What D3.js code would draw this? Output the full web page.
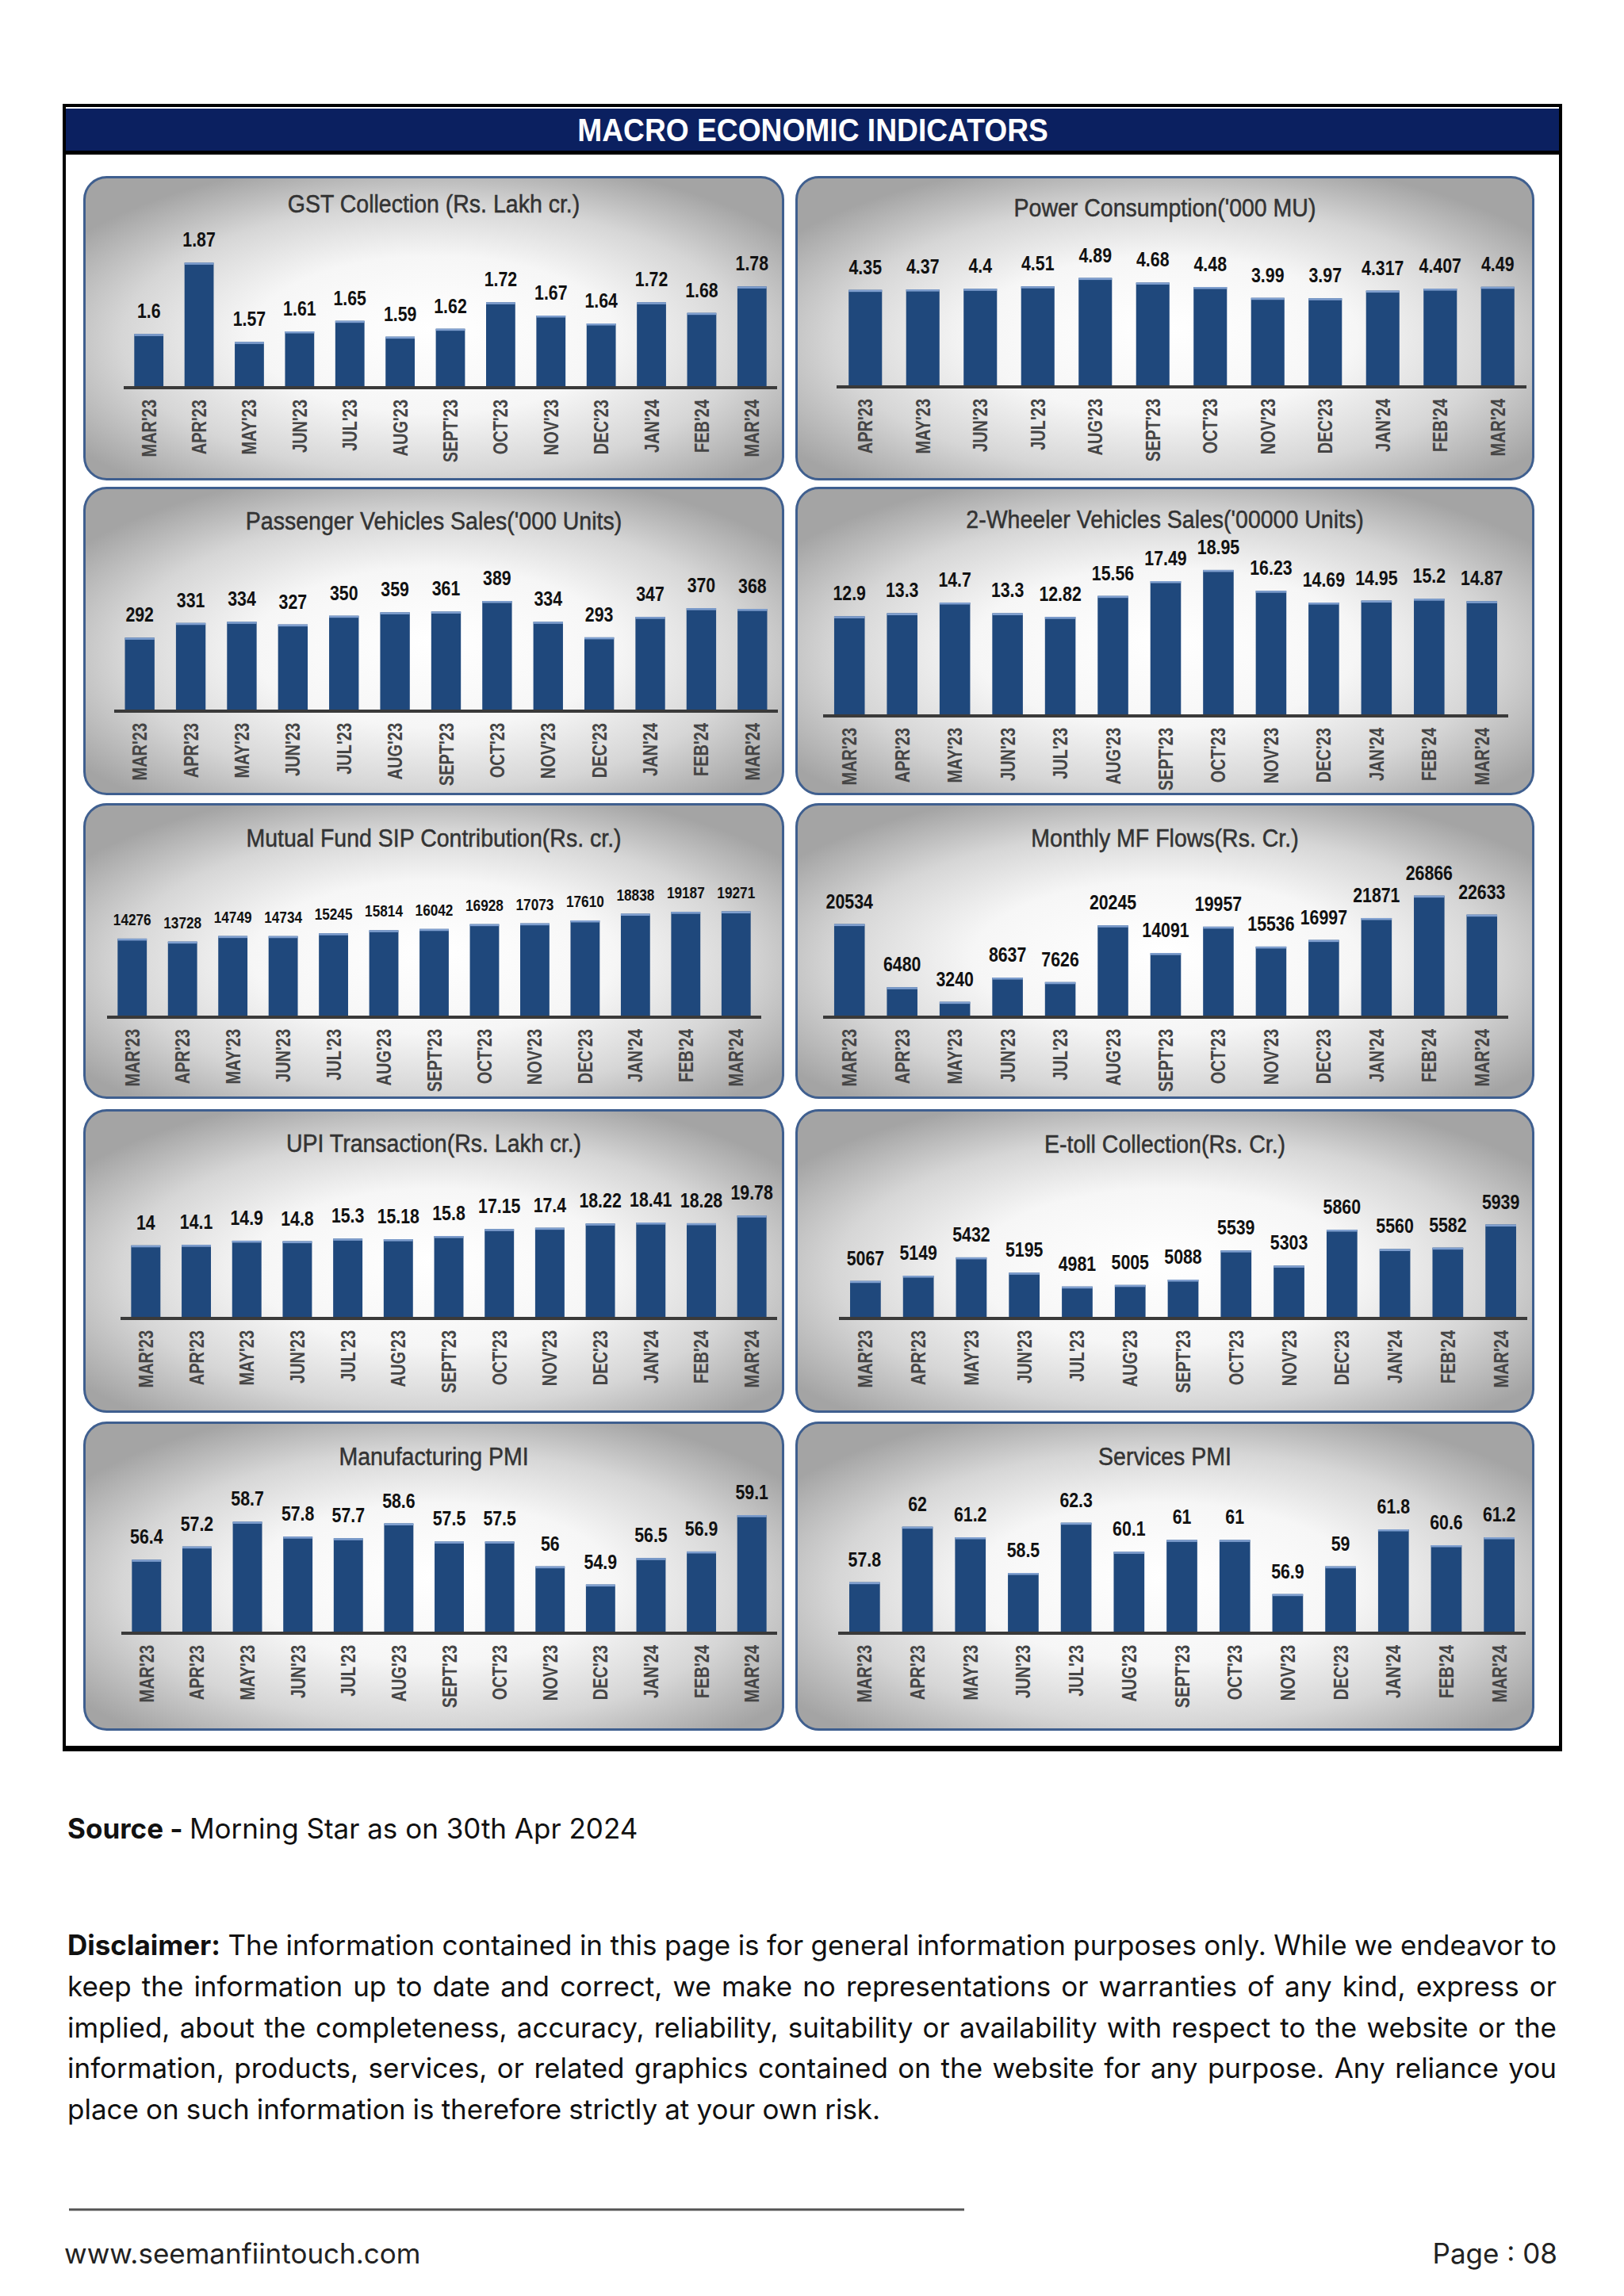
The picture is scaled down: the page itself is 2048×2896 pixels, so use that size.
<!DOCTYPE html>
<html><head><meta charset="utf-8">
<script src="https://cdn.jsdelivr.net/npm/d3@7"></script>
<style>
html,body{margin:0;padding:0;background:#fff;}
svg{display:block;}
</style></head>
<body><svg id="page" width="2048" height="2896"></svg>
<script>
// ---------------- DATA ----------------
const months13 = ["MAR'23","APR'23","MAY'23","JUN'23","JUL'23","AUG'23","SEPT'23","OCT'23","NOV'23","DEC'23","JAN'24","FEB'24","MAR'24"];
const months12 = ["APR'23","MAY'23","JUN'23","JUL'23","AUG'23","SEPT'23","OCT'23","NOV'23","DEC'23","JAN'24","FEB'24","MAR'24"];

const gstValues   = [1.6, 1.87, 1.57, 1.61, 1.65, 1.59, 1.62, 1.72, 1.67, 1.64, 1.72, 1.68, 1.78];
const powerValues = [4.35, 4.37, 4.4, 4.51, 4.89, 4.68, 4.48, 3.99, 3.97, 4.317, 4.407, 4.49];
const pvValues    = [292, 331, 334, 327, 350, 359, 361, 389, 334, 293, 347, 370, 368];
const twValues    = [12.9, 13.3, 14.7, 13.3, 12.82, 15.56, 17.49, 18.95, 16.23, 14.69, 14.95, 15.2, 14.87];
const sipValues   = [14276, 13728, 14749, 14734, 15245, 15814, 16042, 16928, 17073, 17610, 18838, 19187, 19271];
const mfValues    = [20534, 6480, 3240, 8637, 7626, 20245, 14091, 19957, 15536, 16997, 21871, 26866, 22633];
const upiValues   = [14, 14.1, 14.9, 14.8, 15.3, 15.18, 15.8, 17.15, 17.4, 18.22, 18.41, 18.28, 19.78];
const tollValues  = [5067, 5149, 5432, 5195, 4981, 5005, 5088, 5539, 5303, 5860, 5560, 5582, 5939];
const mpmiValues  = [56.4, 57.2, 58.7, 57.8, 57.7, 58.6, 57.5, 57.5, 56, 54.9, 56.5, 56.9, 59.1];
const spmiValues  = [57.8, 62, 61.2, 58.5, 62.3, 60.1, 61, 61, 56.9, 59, 61.8, 60.6, 61.2];

const chartTitles = ["GST Collection (Rs. Lakh cr.)", "Power Consumption('000 MU)",
  "Passenger Vehicles Sales('000 Units)", "2-Wheeler Vehicles Sales('00000 Units)",
  "Mutual Fund SIP Contribution(Rs. cr.)", "Monthly MF Flows(Rs. Cr.)",
  "UPI Transaction(Rs. Lakh cr.)", "E-toll Collection(Rs. Cr.)",
  "Manufacturing PMI", "Services PMI"];
const chartCats   = [months13, months12, months13, months13, months13, months13, months13, months13, months13, months13];
const chartValues = [gstValues, powerValues, pvValues, twValues, sipValues, mfValues, upiValues, tollValues, mpmiValues, spmiValues];
// value-axis extents (the axis itself is hidden in the original)
const axisMin = [1.4, 0, 100, 0, 0, 0, 0, 4500, 52, 54];
const axisMax = [2.0, 7.17, 519, 20.7, 29100, 35270, 30.7, 6950, 61.6, 66];

const pageTitle = "MACRO ECONOMIC INDICATORS";
const sourceBold = "Source -";
const sourceText = "Morning Star as on 30th Apr 2024";
const disclaimerBold = "Disclaimer:";
const disclaimerLines = [
  "The information contained in this page is for general information purposes only. While we endeavor to",
  "keep the information up to date and correct, we make no representations or warranties of any kind, express or",
  "implied, about the completeness, accuracy, reliability, suitability or availability with respect to the website or the",
  "information, products, services, or related graphics contained on the website for any purpose. Any reliance you",
  "place on such information is therefore strictly at your own risk."
];
const footerLeft = "www.seemanfiintouch.com";
const footerRight = "Page : 08";

// ---------------- LAYOUT ----------------
const rowTop = [222, 614, 1013, 1399, 1793];
const rowH   = [384, 389, 373, 383, 390];
const colX   = [105, 1003];
const colW   = [884, 932];
const panelGeom = [
  {t:35, b:266, l:51, r:875, vs:26},
  {t:40, b:265, l:52, r:922, vs:26},
  {t:43, b:282, l:39, r:876, vs:26},
  {t:41, b:288, l:35, r:899, vs:26},
  {t:44, b:269, l:30, r:855, vs:21},
  {t:44, b:269, l:35, r:899, vs:26},
  {t:43, b:263, l:47, r:875, vs:26},
  {t:44, b:263, l:55, r:923, vs:26},
  {t:44, b:266, l:48, r:875, vs:26},
  {t:44, b:266, l:54, r:921, vs:26}
];
const plotH = 200;

const SANS = "'Liberation Sans',Arial,sans-serif";
const BODY = "Inter,'Open Sans',sans-serif";
const BAR = "#1f487c";

const svg = d3.select("#page");
const defs = svg.append("defs");
const grad = defs.append("radialGradient").attr("id","panelGrad")
  .attr("cx","50%").attr("cy","55%").attr("r","62%").attr("fx","50%").attr("fy","50%");
[[0,"#ffffff"],[0.42,"#f6f6f6"],[0.72,"#d6d6d6"],[1,"#a4a4a4"]].forEach(([o,c]) =>
  grad.append("stop").attr("offset",o).attr("stop-color",c));

// frame + header
svg.append("rect").attr("x",81).attr("y",133).attr("width",1887).attr("height",2074)
  .attr("fill","#fff").attr("stroke","#000").attr("stroke-width",4);
svg.append("rect").attr("x",83).attr("y",137).attr("width",1883).attr("height",54).attr("fill","#0b2060");
svg.append("rect").attr("x",83).attr("y",190).attr("width",1883).attr("height",5).attr("fill","#000");
svg.append("rect").attr("x",81).attr("y",2202).attr("width",1887).attr("height",5).attr("fill","#000");
svg.append("text").attr("transform","translate(1025,178) scale(0.93,1)").attr("text-anchor","middle")
  .attr("font-family",SANS).attr("font-weight","bold").attr("font-size",40).attr("fill","#fff")
  .text(pageTitle);

// panels
chartTitles.forEach((title, i) => {
  const col = i % 2, row = Math.floor(i / 2);
  const px = colX[col], py = rowTop[row], pw = colW[col], ph = rowH[row];
  const geo = panelGeom[i];
  const g = svg.append("g").attr("transform", `translate(${px},${py})`);
  g.append("rect").attr("x",1.5).attr("y",1.5).attr("width",pw-3).attr("height",ph-3)
    .attr("rx",28).attr("ry",28).attr("fill","url(#panelGrad)")
    .attr("stroke","#3f5f8f").attr("stroke-width",3);

  g.append("text").attr("transform",`translate(${pw/2},${geo.t}) scale(0.92,1)`)
    .attr("dy","0.36em").attr("text-anchor","middle")
    .attr("font-family",SANS).attr("font-size",31).attr("fill","#333")
    .attr("stroke","#333").attr("stroke-width",0.5).text(title);

  const cats = chartCats[i], vals = chartValues[i];
  const data = cats.map((c, k) => ({c, v: vals[k]}));
  const x = d3.scaleBand().domain(cats).range([geo.l, geo.r]).paddingInner(0.42).paddingOuter(0.21);
  const y = d3.scaleLinear().domain([axisMin[i], axisMax[i]]).range([geo.b, geo.b - plotH]);

  g.selectAll("rect.bar").data(data).join("rect").attr("class","bar")
    .attr("x", d => x(d.c)).attr("width", x.bandwidth())
    .attr("y", d => y(d.v)).attr("height", d => geo.b - y(d.v)).attr("fill", BAR);
  g.selectAll("rect.hl").data(data).join("rect").attr("class","hl")
    .attr("x", d => x(d.c)).attr("width", x.bandwidth())
    .attr("y", d => y(d.v)).attr("height", 2.5).attr("fill", "#7f9fcf");

  g.append("line").attr("x1",geo.l).attr("x2",geo.r).attr("y1",geo.b+1).attr("y2",geo.b+1)
    .attr("stroke","#3a3a3a").attr("stroke-width",4);

  g.selectAll("text.val").data(data).join("text").attr("class","val")
    .attr("transform", d => `translate(${x(d.c) + x.bandwidth()/2},${y(d.v) - (geo.vs > 22 ? 20 : 17)}) scale(0.82,1)`)
    .attr("text-anchor","middle").attr("font-family",SANS).attr("font-weight","bold")
    .attr("font-size",geo.vs).attr("fill","#111").text(d => String(d.v));

  g.selectAll("text.cat").data(data).join("text").attr("class","cat")
    .attr("transform", d => `translate(${x(d.c) + x.bandwidth()/2},${geo.b + 16}) rotate(-90) scale(0.8,1)`)
    .attr("dy","0.36em").attr("text-anchor","end")
    .attr("font-family",SANS).attr("font-weight","bold").attr("font-size",25).attr("fill","#454545")
    .text(d => d.c);
});

// footer
const fs = 35;
const src = svg.append("text").attr("x",85).attr("y",2319).attr("font-family",BODY).attr("font-size",fs).attr("fill","#111");
src.append("tspan").attr("font-weight","bold").text(sourceBold + " ");
src.append("tspan").text(sourceText);

function placeWords(words, bolds, x0, x1, yb, justify) {
  const tmp = svg.append("g");
  const items = words.map((w, k) => {
    const t = tmp.append("text").attr("font-family",BODY).attr("font-size",fs)
      .attr("font-weight", bolds[k] ? "bold" : "normal").attr("fill","#111").text(w);
    return {t, w: t.node().getComputedTextLength()};
  });
  const sum = d3.sum(items, d => d.w);
  const spaceW = fs * 0.26;
  let gap = justify ? (x1 - x0 - sum) / (items.length - 1) : spaceW;
  let sx = 1;
  if (gap < fs * 0.18) { gap = fs * 0.18; sx = (x1 - x0 - gap * (items.length - 1)) / sum; }
  let cx = x0;
  items.forEach(it => {
    it.t.attr("x", cx).attr("y", yb);
    if (sx < 1) it.t.attr("textLength", it.w * sx).attr("lengthAdjust","spacingAndGlyphs");
    cx += it.w * sx + gap;
  });
}
const lineBase = [2466, 2518, 2570, 2621, 2673];
disclaimerLines.forEach((ln, k) => {
  let words = ln.split(" ");
  let bolds = words.map(() => false);
  if (k === 0) { words = [disclaimerBold].concat(words); bolds = [true].concat(bolds); }
  placeWords(words, bolds, 85, 1963, lineBase[k], k < disclaimerLines.length - 1);
});

svg.append("line").attr("x1",87).attr("x2",1216).attr("y1",2787).attr("y2",2787)
  .attr("stroke","#555").attr("stroke-width",3);
svg.append("text").attr("x",81).attr("y",2855).attr("font-family",BODY).attr("font-size",35)
  .attr("fill","#222").text(footerLeft);
svg.append("text").attr("x",1964).attr("y",2855).attr("text-anchor","end").attr("font-family",BODY)
  .attr("font-size",35).attr("fill","#222").text(footerRight);
</script>
</body></html>
